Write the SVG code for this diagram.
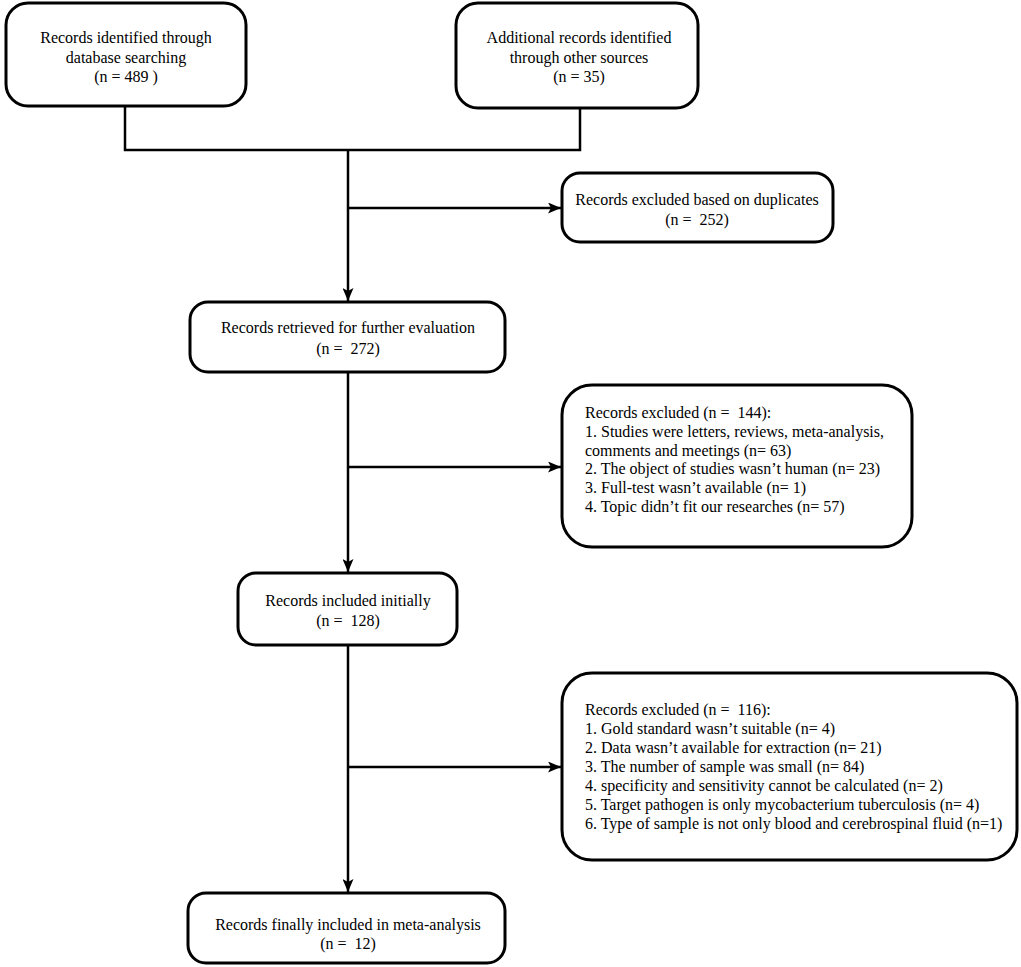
<svg xmlns="http://www.w3.org/2000/svg" width="1021" height="967" viewBox="0 0 1021 967">
<style>
.box{fill:#fff;stroke:#000;stroke-width:3}
.t{font-family:"Liberation Serif","Times New Roman",serif;font-size:16px;fill:#000;white-space:pre}
.c{text-anchor:middle}
.ln{fill:none;stroke:#000;stroke-width:2.5}
</style>
<defs>
<marker id="ah" markerWidth="13" markerHeight="11" refX="13" refY="5.5" orient="auto" markerUnits="userSpaceOnUse">
<path d="M0,0 L13,5.5 L0,11 L3,5.5 Z" fill="#000"/>
</marker>
</defs>
<rect width="1021" height="967" fill="#fff"/>
<g id="connectors">
<path class="ln" d="M125,106 V150 H580 V108"/>
<path class="ln" d="M348,150 V301" marker-end="url(#ah)"/>
<path class="ln" d="M348,208 H561" marker-end="url(#ah)"/>
<path class="ln" d="M348,372 V572" marker-end="url(#ah)"/>
<path class="ln" d="M348,467 H561" marker-end="url(#ah)"/>
<path class="ln" d="M348,645 V892" marker-end="url(#ah)"/>
<path class="ln" d="M348,767 H561" marker-end="url(#ah)"/>
</g>
<g id="n1">
<rect class="box" x="6" y="3" width="240" height="103" rx="22"/>
<text class="t c" x="126" y="43">Records identified through</text>
<text class="t c" x="126" y="63">database searching</text>
<text class="t c" x="126" y="82" xml:space="preserve">(n = 489 )</text>
</g>
<g id="n2">
<rect class="box" x="456" y="3" width="242" height="105" rx="22"/>
<text class="t c" x="579" y="43">Additional records identified</text>
<text class="t c" x="579" y="63">through other sources</text>
<text class="t c" x="579" y="82">(n = 35)</text>
</g>
<g id="n3">
<rect class="box" x="562" y="173" width="271" height="69" rx="18"/>
<text class="t c" x="697" y="205">Records excluded based on duplicates</text>
<text class="t c" x="697" y="225" xml:space="preserve">(n =  252)</text>
</g>
<g id="n4">
<rect class="box" x="190" y="302" width="315" height="70" rx="18"/>
<text class="t c" x="348" y="333">Records retrieved for further evaluation</text>
<text class="t c" x="348" y="354" xml:space="preserve">(n =  272)</text>
</g>
<g id="n5">
<rect class="box" x="562" y="385" width="350" height="162" rx="30"/>
<text class="t" x="585" y="418" xml:space="preserve">Records excluded (n =  144):</text>
<text class="t" x="585" y="437">1. Studies were letters, reviews, meta-analysis,</text>
<text class="t" x="585" y="456">comments and meetings (n= 63)</text>
<text class="t" x="585" y="474">2. The object of studies wasn’t human (n= 23)</text>
<text class="t" x="585" y="493">3. Full-test wasn’t available (n= 1)</text>
<text class="t" x="585" y="512">4. Topic didn’t fit our researches (n= 57)</text>
</g>
<g id="n6">
<rect class="box" x="238" y="573" width="219" height="72" rx="18"/>
<text class="t c" x="348" y="606">Records included initially</text>
<text class="t c" x="348" y="626" xml:space="preserve">(n =  128)</text>
</g>
<g id="n7">
<rect class="box" x="562" y="673" width="455" height="187" rx="30"/>
<text class="t" x="585" y="715" xml:space="preserve">Records excluded (n =  116):</text>
<text class="t" x="585" y="734">1. Gold standard wasn’t suitable (n= 4)</text>
<text class="t" x="585" y="753">2. Data wasn’t available for extraction (n= 21)</text>
<text class="t" x="585" y="772">3. The number of sample was small (n= 84)</text>
<text class="t" x="585" y="791">4. specificity and sensitivity cannot be calculated (n= 2)</text>
<text class="t" x="585" y="810">5. Target pathogen is only mycobacterium tuberculosis (n= 4)</text>
<text class="t" x="585" y="829">6. Type of sample is not only blood and cerebrospinal fluid (n=1)</text>
</g>
<g id="n8">
<rect class="box" x="188" y="893" width="317" height="70" rx="18"/>
<text class="t c" x="348" y="930">Records finally included in meta-analysis</text>
<text class="t c" x="348" y="949" xml:space="preserve">(n =  12)</text>
</g>
</svg>
